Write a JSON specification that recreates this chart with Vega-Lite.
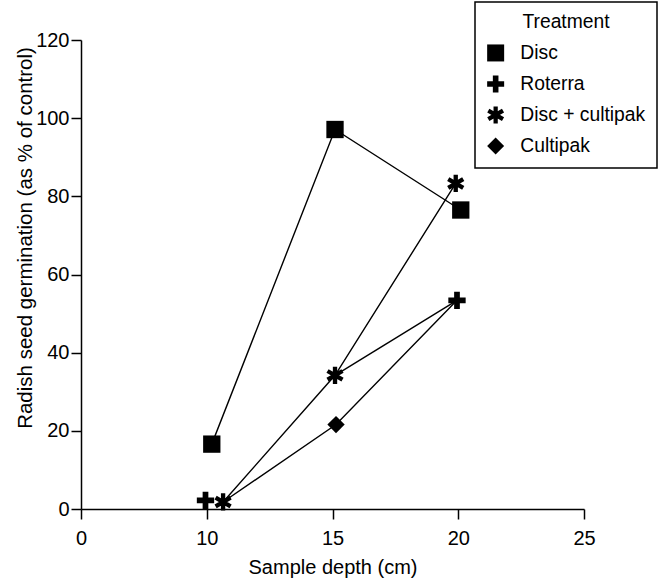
{
  "$schema": "https://vega.github.io/schema/vega-lite/v6.json",
  "width": 503,
  "height": 469,
  "autosize": {"type": "none"},
  "padding": {"left": 81, "top": 40, "right": 74, "bottom": 70},
  "background": "white",
  "data": {
    "values": [
      {"treatment": "Disc", "depth": 10.2, "germination": 16.6, "joined": true, "marker": true},
      {"treatment": "Disc", "depth": 15.1, "germination": 97.1, "joined": true, "marker": true},
      {"treatment": "Disc", "depth": 20.1, "germination": 76.5, "joined": true, "marker": true},
      {"treatment": "Roterra", "depth": 9.9, "germination": 2.2, "joined": false, "marker": true},
      {"treatment": "Roterra", "depth": 15.1, "germination": 34.2, "joined": true, "marker": false},
      {"treatment": "Roterra", "depth": 19.95, "germination": 53.4, "joined": true, "marker": true},
      {"treatment": "Disc + cultipak", "depth": 10.65, "germination": 1.8, "joined": true, "marker": true},
      {"treatment": "Disc + cultipak", "depth": 15.1, "germination": 34.2, "joined": true, "marker": true},
      {"treatment": "Disc + cultipak", "depth": 19.9, "germination": 83.3, "joined": true, "marker": true},
      {"treatment": "Cultipak", "depth": 10.65, "germination": 1.8, "joined": true, "marker": false},
      {"treatment": "Cultipak", "depth": 15.14, "germination": 21.6, "joined": true, "marker": true},
      {"treatment": "Cultipak", "depth": 19.95, "germination": 53.4, "joined": true, "marker": false}
    ]
  },
  "config": {
    "view": {"stroke": null},
    "font": "Liberation Sans",
    "legend": {"strokeWidth": 1.5},
    "axis": {
      "grid": false,
      "domainColor": "black",
      "domainWidth": 1.5,
      "tickColor": "black",
      "tickWidth": 1.5,
      "tickSize": 10,
      "labelFont": "Liberation Sans",
      "labelFontSize": 20,
      "labelColor": "black",
      "labelFlush": false,
      "labelOverlap": false,
      "titleFont": "Liberation Sans",
      "titleFontSize": 20,
      "titleFontWeight": "normal",
      "titleColor": "black"
    }
  },
  "encoding": {
    "x": {
      "field": "depth",
      "type": "quantitative",
      "scale": {"domain": [0, 10, 25], "range": [0, 125.75, 503], "nice": false, "zero": false},
      "axis": {
        "values": [0, 10, 15, 20, 25],
        "title": "Sample depth (cm)",
        "labelPadding": 9,
        "titleY": 64,
        "titleBaseline": "alphabetic"
      }
    },
    "y": {
      "field": "germination",
      "type": "quantitative",
      "scale": {"domain": [0, 120], "nice": false},
      "axis": {
        "values": [0, 20, 40, 60, 80, 100, 120],
        "title": "Radish seed germination (as % of control)",
        "labelPadding": 2,
        "titleFontSize": 20.5,
        "titleX": -56,
        "titleY": 197.5,
        "titleAlign": "center",
        "titleBaseline": "middle"
      }
    }
  },
  "layer": [
    {
      "transform": [{"filter": "datum.joined"}],
      "mark": {"type": "line", "color": "black", "strokeWidth": 1.4},
      "encoding": {"detail": {"field": "treatment"}}
    },
    {
      "transform": [{"filter": "datum.marker"}],
      "mark": {"type": "point", "filled": true, "color": "black", "opacity": 1, "size": 300},
      "encoding": {
        "shape": {
          "field": "treatment",
          "type": "nominal",
          "scale": {
            "domain": ["Disc", "Roterra", "Disc + cultipak", "Cultipak"],
            "range": [
              "square",
              "M-1,-0.33H-0.33V-1H0.33V-0.33H1V0.33H0.33V1H-0.33V0.33H-1Z",
              "M-0.25,-1H0.25V1H-0.25Z M0.741,-0.717L0.991,-0.284L-0.741,0.717L-0.991,0.284Z M-0.991,-0.284L-0.741,-0.717L0.991,0.284L0.741,0.717Z",
              "diamond"
            ]
          },
          "legend": {
            "title": "Treatment",
            "orient": "none",
            "legendX": 394,
            "legendY": -38,
            "strokeColor": "black",
            "fillColor": "white",
            "padding": 11,
            "cornerRadius": 0,
            "titleFont": "Liberation Sans",
            "titleFontSize": 19.3,
            "titleFontWeight": "normal",
            "titleColor": "black",
            "titleAnchor": "middle",
            "titlePadding": 11,
            "labelFont": "Liberation Sans",
            "labelFontSize": 19.3,
            "labelColor": "black",
            "labelOffset": 15,
            "rowPadding": 11,
            "symbolSize": 289,
            "symbolFillColor": "black",
            "symbolStrokeWidth": 0,
            "symbolOpacity": 1
          }
        }
      }
    }
  ]
}
